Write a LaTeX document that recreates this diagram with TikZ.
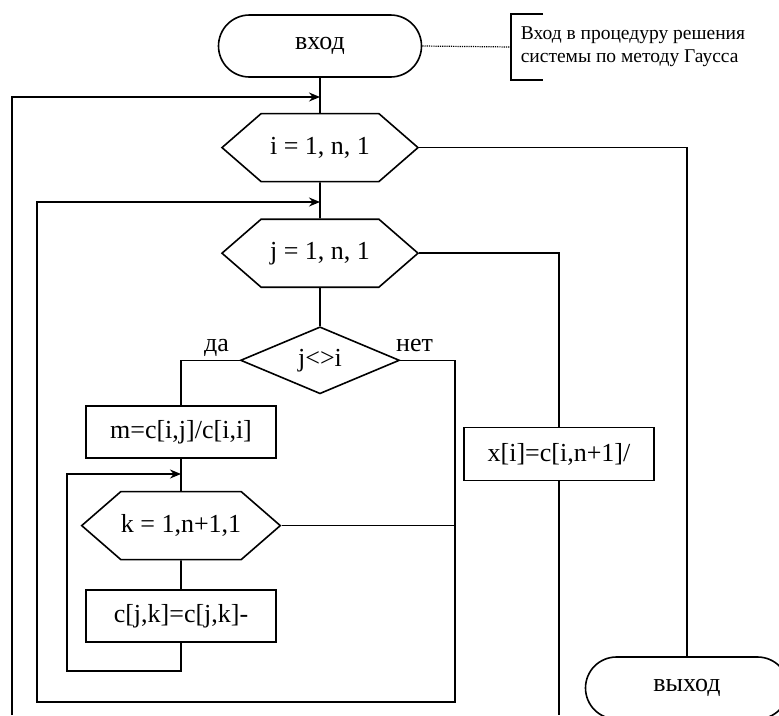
\documentclass[tikz,border=0pt]{standalone}
\usepackage{fontspec}
\setmainfont{Liberation Serif}
\usetikzlibrary{arrows.meta,positioning,shapes.geometric,shapes.symbols}

\begin{document}
\begin{tikzpicture}[x=1pt, y=-1pt, line width=1.6pt, node distance=35pt,
    every node/.style={font=\fontsize{26}{30}\selectfont},
    term/.style={draw, rounded corners=31pt, minimum width=203pt, minimum height=62pt},
    loopbox/.style={draw, signal, signal to=west and east, signal pointer angle=82, minimum width=196pt, minimum height=68pt, inner sep=0pt},
    cond/.style={draw, diamond, aspect=2.4, minimum width=159pt, minimum height=67pt, inner sep=0pt},
    proc/.style={draw, minimum width=190pt, minimum height=52pt},
    note/.style={font=\fontsize{19.5}{23}\selectfont, align=left, anchor=west, inner xsep=9pt, minimum height=64pt},
    lbl/.style={inner sep=2pt},
    flow/.style={-{Stealth[length=11pt, width=9pt]}}]

    \useasboundingbox (0,0) rectangle (779,715);

    % main column
    \node[term] (start) at (320,46) {вход};
    \node[loopbox, below=35pt of start] (loopi) {i = 1, n, 1};
    \node[loopbox, below=36pt of loopi] (loopj) {j = 1, n, 1};
    \node[cond, below=38pt of loopj] (check) {j<>i};

    % inner loop over k
    \node[proc] (mbox) at (181,432) {m=c[i,j]/c[i,i]};
    \node[loopbox, below=32pt of mbox] (kloop) {k = 1,n+1,1};
    \node[proc, below=29pt of kloop] (cbox) {c[j,k]=c[j,k]-};

    \node[proc, minimum height=53pt] (xbox) at (559,454) {x[i]=c[i,n+1]/};
    \node[term] (stop) at (687,688) {выход};

    \node[note] (note) at (511,47) {Вход в процедуру решения\\системы по методу Гаусса};

    \node[lbl, anchor=base east] (yes) at ([xshift=-8pt, yshift=9pt]check.west) {да};
    \node[lbl, anchor=base west] (no) at ([xshift=-7pt, yshift=9pt]check.east) {нет};

    \coordinate (outer) at (12,715);
    \coordinate (ientry) at (320,97);
    \coordinate (jentry) at (320,202);
    \coordinate (nobend) at (455,702);
    \coordinate (jback) at (37,702);
    \coordinate (kback) at (67,671);
    \coordinate (kentry) at (181,474);
    \coordinate (xout) at (559,715);

    \draw (start) -- (loopi);
    \draw (loopi) -- (loopj);
    \draw (loopj) -- (check);
    \draw (check.west) -| (mbox.north);
    \draw (mbox) -- (kloop);
    \draw (kloop) -- (cbox);
    \draw (loopj.east) -| (xbox.north);
    \draw (xbox.south) -- (xout);
    \draw (loopi.east) -| (stop.north);
    \draw (kloop.east) -- (kloop.east -| nobend);

    % loop returns
    \draw[flow] (outer) |- (ientry);
    \draw[flow] (check.east) -| (nobend) -- (jback) |- (jentry);
    \draw[flow] (cbox.south) |- (kback) |- (kentry);

    % comment
    \draw[densely dotted, line width=1.2pt] (start.east) -- (note.west);
    \draw ([xshift=32pt]note.north west) -- (note.north west) -- (note.south west) -- ([xshift=32pt]note.south west);
\end{tikzpicture}
\end{document}
